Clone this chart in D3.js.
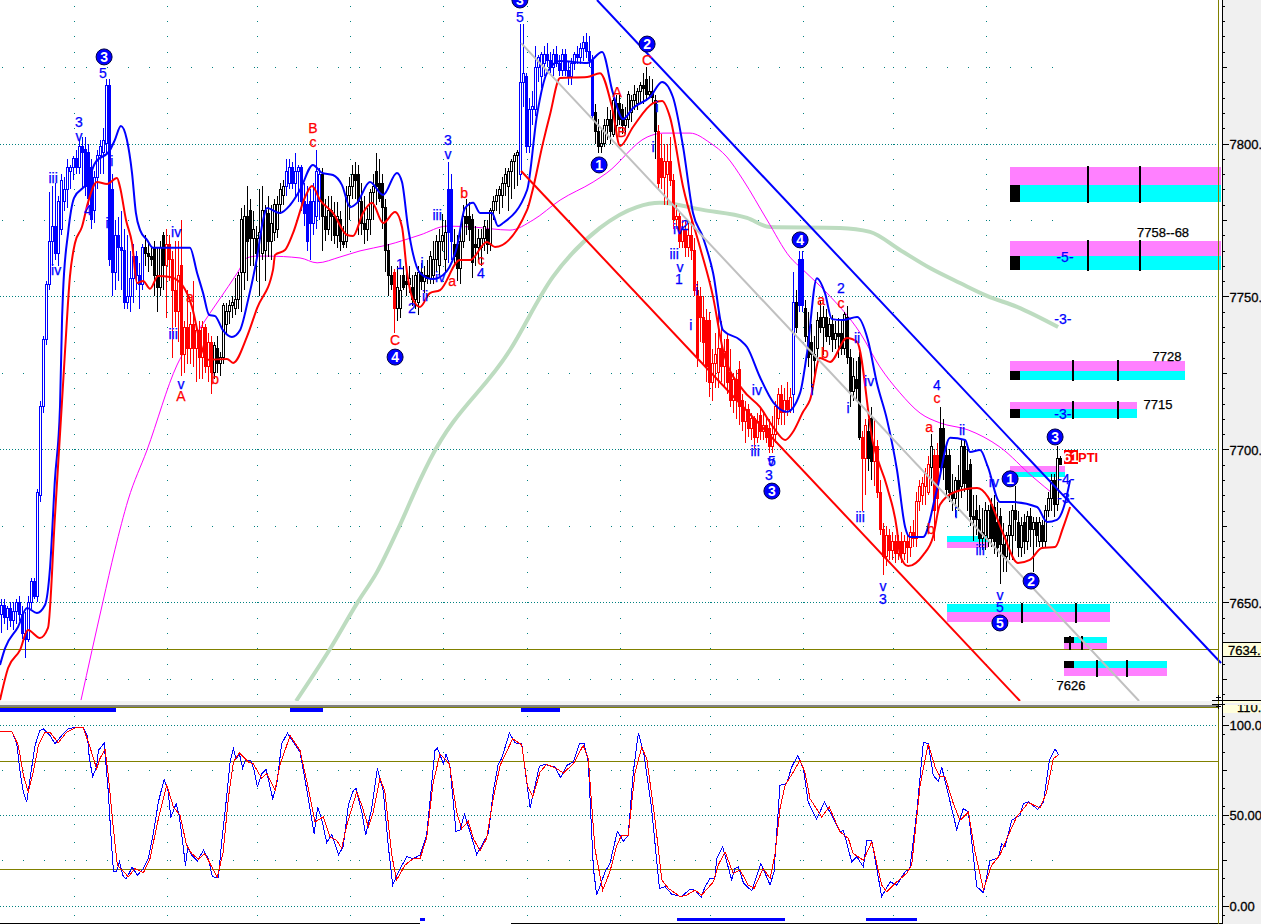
<!DOCTYPE html>
<html>
<head>
<meta charset="utf-8">
<title>Elliott wave chart</title>
<script src="https://cdn.jsdelivr.net/npm/d3@7/dist/d3.min.js"></script>
<style>
html, body { margin: 0; padding: 0; background: #fff; overflow: hidden; }
svg { display: block; font-family: "Liberation Sans", Arial, sans-serif; }
.crisp { shape-rendering: crispEdges; }
</style>
</head>
<body>
<div id="chart"></div>
<script>
// open, high, low, close, one row per bar
const ohlc = [
[7646,7651,7640,7649],[7649,7651,7643,7645],[7645,7649,7641,7648],[7648,7650,7642,7644],[7644,7650,7641,7647],
[7647,7651,7643,7650],[7650,7652,7644,7646],[7646,7649,7638,7640],[7640,7647,7632,7638],[7638,7652,7637,7650],
[7650,7658,7648,7657],[7657,7658,7651,7652],[7652,7687,7650,7686],[7685,7716,7683,7714],[7714,7737,7712,7736],
[7736,7755,7734,7754],[7754,7784,7752,7768],[7768,7786,7760,7773],[7773,7787,7762,7764],[7764,7783,7760,7781],
[7772,7790,7770,7788],[7781,7789,7778,7785],[7785,7795,7779,7792],[7791,7793,7785,7792],[7792,7796,7788,7795],
[7795,7798,7790,7792],[7792,7801,7790,7799],[7799,7802,7785,7797],[7798,7802,7783,7786],[7797,7800,7780,7782],
[7792,7795,7772,7775],[7778,7791,7774,7789],[7789,7798,7785,7796],[7796,7801,7790,7799],[7797,7805,7790,7801],
[7800,7821,7797,7819],[7819,7821,7760,7762],[7785,7790,7750,7758],[7758,7775,7752,7770],[7770,7776,7755,7766],
[7766,7778,7752,7765],[7765,7772,7746,7748],[7748,7770,7746,7750],[7750,7765,7745,7756],[7756,7767,7748,7763],
[7763,7765,7752,7757],[7757,7761,7746,7754],[7754,7767,7752,7766],[7766,7770,7760,7764],[7764,7768,7758,7763],
[7763,7766,7760,7762],[7766,7768,7750,7757],[7757,7766,7745,7753],[7753,7768,7750,7766],[7770,7771,7752,7760],
[7760,7772,7743,7767],[7767,7770,7755,7762],[7762,7765,7730,7752],[7752,7768,7740,7745],[7745,7768,7735,7757],
[7760,7775,7724,7731],[7731,7742,7725,7740],[7740,7752,7728,7733],[7733,7745,7728,7741],[7741,7755,7727,7733],
[7733,7740,7722,7739],[7739,7742,7723,7730],[7730,7742,7723,7740],[7740,7741,7725,7727],[7727,7738,7722,7735],
[7735,7737,7718,7725],[7725,7735,7723,7734],[7733,7737,7725,7728],[7728,7732,7724,7730],[7730,7748,7728,7747],
[7741,7748,7738,7745],[7745,7749,7741,7747],[7747,7750,7743,7748],[7746,7756,7744,7749],[7749,7758,7746,7757],
[7758,7779,7745,7775],[7758,7780,7752,7776],[7776,7786,7755,7768],[7778,7782,7760,7769],[7769,7778,7760,7772],
[7769,7773,7755,7764],[7769,7785,7750,7771],[7764,7786,7762,7778],[7765,7780,7755,7778],[7777,7783,7763,7768],
[7768,7780,7762,7774],[7771,7782,7768,7780],[7772,7783,7769,7780],[7780,7787,7777,7785],[7783,7788,7780,7786],
[7786,7795,7783,7791],[7787,7795,7785,7792],[7792,7794,7785,7787],[7787,7797,7783,7791],[7791,7793,7781,7792],
[7792,7793,7778,7781],[7781,7787,7773,7777],[7780,7786,7765,7768],[7781,7785,7762,7774],[7774,7787,7770,7781],
[7776,7798,7772,7791],[7781,7792,7775,7790],[7790,7792,7765,7776],[7776,7782,7768,7772],[7772,7783,7770,7778],
[7778,7783,7768,7776],[7776,7781,7767,7770],[7770,7781,7766,7776],[7775,7778,7765,7768],[7768,7773,7766,7767],
[7768,7786,7766,7783],[7783,7789,7775,7786],[7786,7793,7782,7790],[7790,7794,7782,7788],[7790,7793,7770,7781],
[7781,7787,7770,7774],[7774,7783,7767,7772],[7772,7779,7768,7775],[7775,7785,7770,7784],[7784,7790,7775,7786],
[7791,7797,7780,7786],[7787,7795,7781,7782],[7787,7790,7772,7779],[7779,7782,7758,7765],[7765,7767,7750,7757],
[7757,7760,7752,7754],[7758,7759,7738,7746],[7746,7760,7742,7753],[7746,7757,7743,7752],[7757,7760,7752,7753],
[7755,7761,7750,7754],[7754,7760,7751,7756],[7753,7757,7747,7749],[7749,7758,7746,7757],[7748,7760,7744,7758],
[7758,7761,7752,7755],[7755,7760,7751,7757],[7757,7762,7754,7756],[7756,7765,7754,7763],[7757,7768,7754,7762],
[7762,7770,7758,7768],[7760,7772,7757,7768],[7768,7777,7765,7770],[7762,7775,7758,7771],[7785,7794,7761,7771],
[7785,7790,7762,7768],[7767,7772,7760,7763],[7767,7770,7755,7759],[7759,7772,7754,7768],[7768,7780,7766,7776],
[7776,7782,7770,7774],[7776,7781,7768,7772],[7775,7777,7756,7761],[7767,7773,7760,7766],[7766,7772,7762,7769],
[7766,7772,7760,7769],[7769,7775,7765,7773],[7772,7775,7764,7767],[7767,7779,7765,7778],[7778,7783,7775,7781],
[7781,7785,7778,7783],[7783,7786,7777,7785],[7783,7789,7779,7787],[7787,7792,7783,7790],[7786,7792,7778,7791],
[7791,7795,7782,7794],[7794,7797,7785,7796],[7796,7798,7786,7797],[7790,7839,7788,7820],[7820,7839,7812,7823],
[7822,7823,7797,7799],[7799,7815,7797,7811],[7811,7817,7806,7812],[7811,7832,7809,7825],[7825,7829,7820,7828],
[7822,7830,7818,7829],[7826,7832,7822,7829],[7829,7833,7825,7827],[7827,7830,7823,7825],[7825,7831,7822,7829],
[7829,7832,7825,7826],[7826,7829,7822,7824],[7824,7831,7822,7829],[7829,7831,7822,7824],[7824,7827,7819,7822],
[7822,7828,7819,7826],[7826,7830,7824,7829],[7829,7832,7826,7828],[7828,7833,7826,7831],[7831,7835,7827,7833],
[7833,7836,7828,7830],[7830,7835,7825,7827],[7827,7829,7808,7809],[7810,7813,7800,7804],[7804,7808,7797,7799],
[7799,7805,7797,7800],[7800,7808,7799,7806],[7806,7812,7801,7808],[7808,7811,7800,7804],[7803,7815,7802,7814],
[7806,7816,7804,7813],[7813,7816,7806,7808],[7811,7813,7803,7806],[7806,7812,7803,7808],[7808,7817,7805,7816],
[7810,7816,7807,7814],[7814,7819,7811,7816],[7813,7818,7811,7817],[7817,7820,7813,7819],[7819,7823,7813,7818],
[7821,7825,7814,7816],[7816,7822,7815,7817],[7817,7821,7813,7815],[7814,7816,7795,7804],[7804,7806,7785,7787],
[7795,7803,7785,7789],[7789,7800,7780,7794],[7790,7800,7780,7794],[7794,7802,7786,7788],[7788,7790,7772,7775],
[7775,7780,7772,7776],[7776,7778,7766,7768],[7768,7775,7766,7772],[7772,7775,7763,7766],[7766,7774,7763,7770],
[7770,7775,7762,7765],[7765,7769,7750,7752],[7752,7755,7727,7730],[7750,7753,7735,7743],[7743,7750,7728,7735],
[7742,7746,7722,7727],[7742,7745,7717,7722],[7722,7733,7716,7728],[7728,7738,7720,7731],[7725,7745,7720,7733],
[7733,7742,7722,7727],[7727,7736,7720,7732],[7736,7738,7718,7722],[7725,7733,7714,7716],[7716,7725,7712,7723],
[7723,7726,7710,7716],[7726,7729,7708,7714],[7716,7718,7706,7709],[7709,7716,7702,7713],[7713,7715,7704,7707],
[7707,7712,7703,7710],[7710,7711,7700,7704],[7704,7712,7702,7709],[7711,7714,7703,7706],[7706,7712,7703,7708],
[7708,7711,7702,7704],[7707,7710,7699,7701],[7701,7711,7699,7705],[7705,7716,7702,7714],[7710,7720,7708,7718],
[7718,7721,7708,7712],[7712,7720,7708,7716],[7716,7722,7711,7713],[7713,7720,7712,7717],[7718,7758,7712,7748],
[7748,7752,7738,7740],[7762,7765,7745,7747],[7762,7765,7745,7747],[7746,7749,7735,7737],[7737,7745,7727,7730],
[7735,7741,7720,7731],[7731,7737,7722,7729],[7733,7745,7730,7742],[7743,7749,7738,7740],[7740,7747,7731,7743],
[7743,7746,7735,7737],[7737,7743,7734,7741],[7741,7744,7732,7736],[7736,7742,7733,7738],[7738,7743,7730,7737],
[7738,7742,7731,7733],[7733,7745,7731,7744],[7743,7747,7728,7730],[7730,7733,7714,7719],[7719,7730,7716,7724],
[7723,7729,7716,7720],[7730,7732,7703,7704],[7704,7706,7680,7697],[7697,7710,7685,7708],[7706,7710,7693,7697],
[7710,7714,7690,7696],[7696,7710,7688,7701],[7701,7703,7684,7686],[7686,7690,7672,7674],[7674,7676,7659,7665],
[7665,7675,7662,7672],[7672,7674,7664,7667],[7667,7673,7664,7670],[7670,7672,7663,7666],[7666,7672,7664,7670],
[7670,7673,7663,7666],[7666,7672,7664,7670],[7670,7672,7663,7668],[7668,7675,7665,7673],[7673,7677,7668,7671],
[7671,7686,7668,7683],[7683,7690,7680,7688],[7685,7691,7682,7689],[7688,7694,7682,7692],[7686,7698,7685,7695],
[7694,7705,7688,7701],[7698,7700,7670,7680],[7698,7702,7680,7684],[7707,7714,7692,7694],[7707,7710,7690,7694],
[7698,7702,7685,7687],[7698,7700,7683,7686],[7686,7692,7680,7684],[7684,7691,7678,7690],[7690,7695,7680,7687],
[7688,7703,7684,7701],[7701,7703,7686,7689],[7693,7700,7680,7687],[7695,7697,7675,7678],[7678,7685,7670,7677],
[7680,7685,7672,7677],[7677,7682,7668,7671],[7671,7681,7667,7673],[7672,7683,7667,7680],[7671,7682,7668,7680],
[7682,7684,7668,7671],[7681,7685,7666,7670],[7676,7683,7665,7668],[7678,7681,7656,7669],[7669,7676,7660,7665],
[7665,7673,7660,7672],[7672,7680,7664,7675],[7672,7682,7664,7680],[7680,7688,7670,7677],[7676,7680,7665,7668],
[7668,7678,7665,7675],[7676,7679,7666,7670],[7670,7680,7667,7678],[7678,7681,7668,7674],[7674,7678,7660,7676],
[7676,7678,7668,7672],[7670,7678,7668,7676],[7675,7677,7668,7670],[7670,7682,7668,7680],[7680,7686,7678,7684],
[7684,7692,7680,7690],[7690,7692,7678,7682],[7682,7701,7680,7697],[7697,7698,7695,7695]
];

// last bar of each colour run of the price bars
const regimeEnd = [47,54,70,94,106,130,131,148,150,172,197,218,263,264,265,267,286,288,290,309,310,312,353];
const regimeName = ['up','flat','down','flat','up','flat','down','flat','up','flat','up','flat','down','up','flat','up','flat','down','flat','down','flat','down','flat'];

const upperBand = [
[0,7629.6],[1.7,7635.1],[6,7642],[9,7648.2],[12.3,7646.6],[15,7649.2],[16.7,7661.6],[18.3,7690],[20,7713.9],[20.7,7743.3],
[21,7751.1],[22.7,7770.8],[24.7,7782.2],[29,7787.1],[31.7,7793.6],[36.7,7797.9],[38.3,7801.2],[40.3,7805.7],[42.3,7801.2],[44,7790.4],
[45.3,7777.3],[46.7,7771.7],[49,7768.5],[51,7765.9],[59,7765.9],[63.3,7765.9],[65.7,7757.7],[67.7,7751.1],[69.7,7744],[71.7,7743.6],
[74.3,7739],[77.3,7736.8],[80,7739],[82.7,7748.9],[85.7,7762.9],[87.7,7775],[89,7778.9],[93.3,7777.3],[96.7,7779.9],[100,7784.8],
[104.3,7793],[107.3,7790.4],[111,7789.7],[114,7786.4],[116.7,7779.2],[119,7780.6],[123.3,7787.4],[127.7,7783.2],[132.3,7790.4],[134,7787.4],
[136,7772.7],[140,7757.7],[144.3,7755.7],[147.7,7757],[152.3,7766.2],[155,7778.9],[157.7,7780.6],[160,7777.3],[164,7777.3],[166,7773],
[167.7,7774],[175.7,7784.8],[179,7809.3],[182.3,7823],[186.7,7827],[195.7,7826.3],[200.7,7829.9],[204.3,7816.5],[207.7,7808],[211,7811.6],
[216.7,7815.2],[220.7,7820.1],[224.3,7815.2],[227.7,7798.9],[231,7777.3],[234.3,7769.4],[237.7,7757.7],[241,7739],[246.7,7735.8],[249,7733.5],
[253.3,7723.7],[257.7,7715.5],[262.3,7712.3],[266.7,7718.5],[269,7731.5],[272.3,7756],[275,7751.1],[277.3,7742.6],[281,7742.3],[285.7,7743.3],
[289.3,7735.8],[292.3,7721.7],[295.7,7709.6],[299,7693.3],[301.7,7674.7],[303.3,7671.4],[307.7,7671.4],[312.3,7686.8],[316.7,7703.8],[321.7,7703.1],
[323.3,7699.2],[326.7,7699.8],[329.3,7694.3],[333.3,7682.8],[337.7,7682.8],[345.7,7681.2],[349,7676.3],[352.3,7677],[355,7682.5],[356.7,7690]
];

const lowerBand = [
[0,7618.1],[2.7,7628.6],[6.7,7634.5],[9.3,7641],[13.3,7638.4],[16,7641.7],[18.3,7677.9],[20.7,7716.2],[21.7,7732.5],[23.3,7756.4],
[25,7767.5],[27.3,7772.7],[29.3,7780.6],[32.3,7787.4],[35.7,7786.8],[39,7788.7],[40,7785.8],[42,7775],[44,7767.5],[45.7,7754.4],
[47.7,7755.1],[50,7752.5],[52.7,7756.7],[56.7,7756.4],[60.7,7753.8],[64,7746.6],[66.7,7735.1],[69.3,7729.3],[75.7,7729.6],[77.7,7728.3],
[82.3,7736.8],[85.7,7746.2],[91,7758.7],[91.7,7763.6],[95,7765.2],[97.7,7770.8],[101.7,7782.5],[104,7786.1],[106.7,7781.5],[111,7777.3],
[115.7,7770.1],[117.7,7769.8],[121,7777.3],[124,7780.6],[127.7,7774],[131.7,7777.6],[134,7772.7],[135.7,7757.7],[137.7,7748.9],[140,7746.6],
[143.3,7751.1],[146.7,7752.1],[153.3,7761.9],[156.7,7761.9],[162.3,7767.8],[165,7766.2],[175.7,7778.3],[177.3,7783.8],[181,7800.2],[183.3,7809.3],
[186.7,7821.4],[195.7,7821.7],[200,7823],[204,7811.9],[206.7,7799.2],[211,7805.4],[217.7,7813.2],[220.7,7813.9],[223.3,7808.7],[227.7,7785.8],
[233.3,7766.2],[237.7,7749.8],[241,7732.5],[247.7,7719.4],[253.3,7713.9],[257.7,7707.4],[261.7,7703.1],[264.3,7705.7],[267.7,7712.3],[270,7716.2],
[273.3,7729.9],[276.7,7728.6],[282.3,7736.4],[285.7,7735.1],[291,7702.1],[295.7,7687.7],[299,7673.7],[300,7665.5],[302.7,7661.9],[307.7,7665.5],
[311,7671.4],[313.3,7681.9],[318.3,7686.1],[325.7,7687.4],[329.3,7684.5],[334.3,7672.7],[339.3,7662.9],[343.3,7663.9],[347.3,7667.8],[351.7,7668.1],
[354.3,7674.3],[356.7,7681.2]
];

const shortAverage = [
[27,7618.1],[34.3,7650.2],[38.3,7667.2],[42.7,7683.5],[49,7699.8],[59,7727.6],[66.7,7739.7],[79.3,7758],[82.3,7762.6],[85.7,7763.2],
[89,7763.2],[100,7762.6],[105.7,7761],[113.3,7762.9],[120,7764.9],[129,7766.8],[140,7770.1],[149,7773],[157.7,7772.7],[170,7771.7],
[177.7,7775],[186.7,7781.5],[197.7,7787.4],[202.3,7790.4],[215.7,7802.1],[221,7803.4],[230,7803.4],[236.7,7800.2],[242.3,7795.6],[247.7,7788.1],
[255.7,7775],[263.3,7762.9],[267.7,7758.7],[275.7,7751.1],[286.7,7738.1],[293.3,7727],[300,7718.5],[306.7,7711.9],[313.3,7708.7],[322.7,7706.4],
[333.3,7700.8],[344.3,7691],[352.3,7684.5]
];

const longAverage = [
[98.7,7617.8],[110,7634.8],[119.3,7650.2],[125.7,7660],[133.3,7675.3],[140,7690],[143.3,7696.6],[170,7732.5],[184.3,7756.4],[200,7772.4],
[212.3,7779.2],[220,7780.6],[234.3,7778.3],[249,7775.7],[256.7,7772.7],[280,7772.4],[290,7771.1],[300,7765.2],[310,7759.3],[320,7754.4],
[329,7750.2],[339,7746.6],[352.7,7740]
];

const stochK = [
[0,96.6],[3.9,96.6],[5.6,89.6],[6.7,73.9],[7.8,62.9],[8.9,57.4],[10,70.3],[11.7,88.7],[13.3,97],[14.4,97.9],
[16.7,94.2],[18.3,89.6],[20.6,94.2],[22.8,97.9],[25,98.8],[27.8,98.4],[29.1,94.2],[29.8,81.3],[30.9,71.5],[32.2,76.7],
[32.8,85.9],[34.7,90],[35.3,78.5],[36.1,62.9],[36.7,46.3],[37.8,19],[38.9,19],[39.8,24.2],[40.9,16.8],[42,14.6],
[43.3,18.7],[44,21.3],[45.8,16.8],[47.8,20.5],[49.4,26],[51.1,39.9],[52.8,57.4],[54.7,69.9],[56.1,62.9],[56.9,48.7],
[58.7,56.4],[59.7,50],[60.9,35.3],[61.8,22],[62.6,32.5],[63.9,27.9],[65.8,24.6],[67.8,30.6],[69.4,26],[70.8,15.9],
[72.8,15.5],[73.9,35.3],[75.6,61],[76.7,79.5],[77.8,86.8],[78.7,81.3],[79.8,84],[80.9,76.1],[81.7,80.4],[83.6,80.4],
[84.7,74.9],[85.8,65.6],[87.2,73],[88.7,75.4],[90.9,59.2],[92.2,66.6],[93.9,89.6],[95.8,95.5],[97.8,90.5],[100,85],
[102.2,64.7],[104.7,39.9],[105.9,54.6],[107.2,48.1],[108.9,34.9],[110.6,39.3],[112.9,28.2],[114.4,32.5],[116.1,55.5],[117.8,63.8],
[118.7,64.7],[120.6,51.8],[121.9,38.9],[123.9,53.7],[125.8,76.1],[127.8,62.9],[129.4,33.4],[130.9,11.3],[132.8,18.7],[135.6,27],
[137.8,26],[140,27.9],[142.2,38.9],[145,85.9],[145.8,87.2],[147.8,78.5],[148.7,84],[150,76.7],[152,41.1],[153.3,41.7],
[154.8,50.4],[156.7,40.8],[158.9,28.2],[162.8,39.9],[164.4,62.9],[166.1,78.5],[167.2,81.3],[169.8,95.5],[171.7,90.1],[173.9,89.6],
[176.7,54.2],[179.8,77.2],[181.7,78.2],[185,76.7],[186.9,70.8],[188.9,77.6],[191.1,79.5],[193.1,89.6],[194.7,89.6],[196.1,79.5],
[197.8,20.5],[198.9,5.8],[201.7,18.7],[203.3,23.3],[205.8,41.1],[207.8,35.6],[209.4,38.9],[211.1,73.9],[212.8,95.7],[214.7,83.1],
[217.2,53.7],[219.8,9.5],[221.7,10.4],[223.9,6.3],[227.2,4.9],[230,9.1],[231.7,8.5],[233.7,4.5],[235,10.4],[236.7,15],
[238.3,15],[238.9,26],[240.9,32.5],[243.9,14.1],[245,20.5],[246.1,21.4],[247.8,12.6],[250.6,8],[253.6,23.3],[256.7,11.3],
[258,18.7],[260,66.6],[262.2,67.5],[263.9,76.7],[265.9,83.1],[267.8,75.8],[269.4,57.4],[272.2,47.8],[274.8,57.4],[277.2,50],
[280,40.8],[281.1,41.7],[283.9,24.2],[285.6,27],[287.8,21.4],[288.9,35.8],[290.6,35.8],[293.9,4.9],[296.7,13.1],[298.9,11.3],
[301.7,18.7],[303.3,20.5],[305.6,51.8],[307.8,90.5],[309.4,89.6],[311.1,72.1],[312.8,68.8],[313.9,76.7],[316.7,57.4],[318.9,42.1],
[321.1,53.7],[322.8,51.8],[325.6,10.4],[327.8,7.1],[330,24.8],[332.8,26.4],[333.9,34.3],[335,32.5],[337.2,47.2],[340,50],
[341.1,56.4],[342.8,57.4],[345.9,53.3],[347.8,57.4],[349.8,80.4],[351.7,86.8],[352.8,83.5]
];

const stochD = [
[0,96.6],[3.9,96.6],[6.1,88.7],[7.8,72.1],[9.4,62.9],[11.1,73.9],[12.8,88.7],[15,96],[16.7,96],[19.4,90.1],
[22.2,96],[25,98.4],[27.8,98.4],[30,87.7],[32.2,75.8],[33.3,81.3],[35,86.8],[36.1,72.1],[37.8,42.6],[39.1,22.4],
[42.8,15.9],[45,20.5],[47.8,18.1],[50,26],[52.8,48.1],[55.6,66.6],[57.8,54.6],[60,50],[62.2,33.4],[63.9,28.8],
[66.1,25.7],[68.3,28.8],[70,23.3],[72.4,15.5],[74.4,29.7],[76.1,59.2],[77.8,79.5],[79.8,84.6],[82.8,79.5],[84.4,78.5],
[87.2,70.6],[88.9,73],[91.7,63.8],[93.3,77.6],[96.7,94.2],[100,85.9],[102.8,64.7],[105,46.3],[107.8,49.1],[110,38],
[112.2,36.2],[113.9,31.6],[115.6,44.5],[118.9,62.9],[120.6,55.5],[122.8,43.5],[124.4,51.8],[126.7,70.6],[128.3,62.9],[130.6,27.9],
[132.2,14.1],[135,22.4],[137.8,26],[140,26],[142.2,37.1],[144.4,68.4],[146.7,84],[149.8,78.5],[152.2,51.8],[153.9,42.6],
[156.1,46.7],[157.8,37.1],[160,30.3],[162.2,37.1],[164.4,59.2],[166.7,77.6],[170.9,92.4],[173.9,89],[175.8,66.6],[177.6,60.1],
[180,73.9],[182.2,78.2],[185.6,75.8],[187.8,73.4],[191.1,78.5],[194.4,88.7],[196.1,81.3],[198.3,31.6],[200.9,8.5],[203.3,18.7],
[205.6,33.4],[207.2,38.9],[209.4,38.9],[211.7,73.9],[213.9,87.7],[215.6,81.3],[218.3,48.1],[220.6,14.1],[222.8,9.5],[226.7,4.9],
[228.9,5.8],[231.7,8.5],[233.9,5.8],[237.8,13.1],[239.4,22.4],[241.7,29.7],[244.4,17.8],[246.7,19.6],[249.4,11.3],[251.4,9.5],
[254.4,20.5],[256.7,15],[258.3,27.9],[260,53.7],[261.7,66.6],[264.4,73.9],[266.7,80.4],[268.3,73.9],[270,59.2],[273.9,49.1],
[276.4,54.6],[280,40.8],[282.8,37.1],[284.4,28.8],[287.8,25.1],[290.6,35.3],[293.9,11.3],[295.6,7.6],[298.3,12.2],[302.2,17.8],
[303.9,22.4],[306.7,66.6],[309.4,89.6],[311.7,76.7],[313.3,71.2],[315,71.2],[317.8,56.4],[320,47.2],[322.8,51.8],[325,29.7],
[327.8,8.9],[330.6,22.4],[333.3,27.9],[336.1,38.9],[338.9,49.1],[342.8,57],[346.7,54],[348.9,62.9],[351.1,81.3],[352.8,83.5]
];

// trend lines: bar, price, bar, price
const blueTrend = [199,7846.9,407,7630.2];
const redTrend = [173.7,7791,340,7617.8];
const grayTrend = [173.7,7832.8,379.7,7617.8];
const lastPrice = 7634.5;

// target zones: start bar, end bar, top, middle, bottom, tick bar, tick bar, first colour, square part
const targetZones = [
[336.7,407,7792.3,7786.4,7780.9,362.7,380,'m','low'],
[336.7,407,7768.1,7763.2,7758.7,362.7,380,'m','low'],
[336.7,395,7728.9,7725.6,7722.7,357.7,372.7,'m','low'],
[336.7,379,7715.5,7713.2,7710.3,357.7,372.7,'m','low'],
[336.7,355,7694.6,7692.7,7691,null,null,'m',null],
[315.7,329.3,7671.6,7669.7,7667.7,null,null,'c',null],
[315.7,370,7649.5,7647,7643.7,340.7,358.7,'c',null],
[354.7,369,7638.7,7636.8,7634.8,356.7,360.7,'c','high'],
[354.7,389,7630.9,7628.6,7626,365.7,375.7,'c','high']
];

const circleLabels = [
[34.7,7828.3,'3'],[173.3,7846.9,'3'],[215.7,7832.5,'2'],[199.7,7793,'1'],[131.7,7730.2,'4'],[266.7,7768.5,'4'],
[257.3,7686.4,'3'],[336.7,7690.4,'1'],[351.7,7704.1,'3'],[343.7,7657,'2'],[333.3,7643.3,'5']
];

const blueLabels = [
[34.3,7823,'5'],[26.3,7807,'3'],[26.3,7802.5,'v'],[17.7,7788.7,'iii'],[18.7,7758.7,'iv'],[37.3,7794.3,'i'],[35.7,7774,'i'],[29.3,7778.3,'4'],
[58.7,7771,'iv'],[57.7,7737.8,'iii'],[60.3,7721.4,'v'],[149.3,7801.1,'3'],[149.3,7796.6,'v'],[145.7,7776.6,'iii'],[133.3,7760.6,'1'],[137.3,7746.2,'2'],
[140.7,7761,'i'],[141.7,7750.2,'ii'],[146.7,7756.4,'iv'],[160.3,7757.7,'4'],[173.3,7841.3,'5'],[219,7811.9,'i'],[217.7,7798.9,'i'],[226,7772,'iv'],
[228.3,7773.4,'2'],[224.7,7763.9,'iii'],[226.7,7759.6,'v'],[226.3,7755.7,'1'],[232.3,7752.1,'i'],[230.3,7740.7,'i'],[252.3,7719.4,'iv'],[251.7,7699.5,'iii'],
[257,7696.2,'v'],[257.3,7696.2,'5'],[256.3,7691.7,'3'],[285.7,7736.4,'ii'],[289.7,7722.4,'iv'],[282.7,7713.6,'i'],[270.7,7719.4,'i'],[286.7,7678,'iii'],
[294.3,7655.4,'v'],[294.3,7651.1,'3'],[318.7,7679.3,'i'],[320.7,7706.4,'ii'],[331.3,7689.4,'iv'],[326.7,7667.2,'iii'],[333.3,7652.5,'v'],[333.3,7648.5,'5'],
[312.3,7721.1,'4'],[280.3,7752.8,'2'],[354.3,7742.6,'-3-'],[354.3,7711.6,'-3-'],[355,7762.9,'-5-'],[355.3,7690.4,'-4-'],[355.3,7684.2,'-3-']
];

const redLabels = [
[104.3,7805.1,'B'],[104.3,7800.5,'c'],[63.3,7749.8,'a'],[71.7,7723,'b'],[60.3,7717.5,'A'],[131.7,7735.8,'C'],[150.7,7755,'a'],[154.7,7783.8,'b'],
[160.3,7761.9,'c'],[205.7,7816.8,'A'],[207.3,7803.8,'B'],[215.7,7827.3,'C'],[273.7,7748.9,'a'],[275,7731.5,'b'],[280.3,7747.9,'c'],[309.7,7707.4,'a'],
[312.3,7716.8,'c'],[310.3,7674,'b']
];

const priceLabels = [[387.7,7771.1,'7758--68'],[389,7730.6,'7728'],[386,7714.9,'7715'],[357,7623,'7626']];

const priceMajorTicks = [7800,7750,7700,7650];
const priceMiddleTicks = [7825,7775,7725,7675,7625];
const stochMajorTicks = [100,50,0];
const stochTickLabels = ['100.0','50.00','0.00'];
const stochMiddleTicks = [75,25];
const stochBands = [80,20];
const gridBars = [24.7,55.7,85.7,116.7,147.7,175.7,206.7,236.7,267.7,297.7,328.7];
const topSignals = [[0,38.7],[96.7,107.7],[173.7,186.7]];
const bottomSignals = [[140,141.7],[225.7,261.7],[288.7,305.7]];

const W = 1261, H = 924;
const plotRight = 1218, axisLeft = 1222;
const priceBottom = 701;
const colors = {up: '#0000ff', down: '#ff0000', flat: '#000000', m: '#ff80ff', c: '#00ffff', grid: '#008080', olive: '#808000'};

const x = d3.scaleLinear().domain([0,406]).range([0,plotRight]);
const y = d3.scaleLinear().domain([7846.9,7617.8]).range([0,priceBottom]);
const yS = d3.scaleLinear().domain([100,0]).range([725,905.5]);

const svg = d3.select('#chart').append('svg').attr('width',W).attr('height',H);
svg.append('rect').attr('width',W).attr('height',H).attr('fill','#fff');

const defs = svg.append('defs');
defs.append('clipPath').attr('id','priceClip').append('rect').attr('width',axisLeft).attr('height',priceBottom);

// grid, upper and lower panel
const grid = svg.append('g').attr('class','crisp');
function dottedLine(yPos, x0, x1, dash, color) {
    grid.append('line').attr('x1',x0).attr('x2',x1).attr('y1',yPos).attr('y2',yPos)
        .attr('stroke',color).attr('stroke-dasharray',dash);
}
priceMajorTicks.forEach(function(p) { dottedLine(Math.round(y(p))+0.5, 0, plotRight, '1,2', colors.grid); });
stochMajorTicks.forEach(function(p) { dottedLine(Math.round(yS(p))+0.5, 0, plotRight, '1,2', colors.grid); });
priceMiddleTicks.forEach(function(p) { dottedLine(Math.round(y(p))+0.5, 2, 1053, '1,20', colors.grid); });
stochMiddleTicks.forEach(function(p) { dottedLine(Math.round(yS(p))+0.5, 2, 1053, '1,20', colors.grid); });

const priceDots = d3.range(7620,7850,5);
const stochDots = d3.range(-5,110,10);
gridBars.forEach(function(b) {
    grid.selectAll(null).data(priceDots).join('rect')
        .attr('x',Math.round(x(b))).attr('y',function(d) { return Math.round(y(d)); })
        .attr('width',1).attr('height',1).attr('fill',colors.grid);
    grid.selectAll(null).data(stochDots).join('rect')
        .attr('x',Math.round(x(b))).attr('y',function(d) { return Math.round(yS(d)); })
        .attr('width',1).attr('height',1).attr('fill',colors.grid);
});

const price = svg.append('g').attr('clip-path','url(#priceClip)');
const line = d3.line().x(function(d) { return x(d[0]); }).y(function(d) { return y(d[1]); });
const smooth = d3.line().curve(d3.curveMonotoneX).x(function(d) { return x(d[0]); }).y(function(d) { return y(d[1]); });
const lineS = d3.line().x(function(d) { return x(d[0]); }).y(function(d) { return yS(d[1]); });

price.append('line').attr('class','crisp').attr('x1',0).attr('x2',plotRight)
    .attr('y1',y(lastPrice)).attr('y2',y(lastPrice)).attr('stroke',colors.olive);

// target zones
const zone = price.append('g').attr('class','crisp').selectAll('g').data(targetZones).join('g');
zone.append('rect').attr('x',function(d) { return x(d[0]); }).attr('y',function(d) { return y(d[2]); })
    .attr('width',function(d) { return x(d[1])-x(d[0]); }).attr('height',function(d) { return y(d[3])-y(d[2]); })
    .attr('fill',function(d) { return d[7]==='m' ? colors.m : colors.c; });
zone.append('rect').attr('x',function(d) { return x(d[0]); }).attr('y',function(d) { return y(d[3]); })
    .attr('width',function(d) { return x(d[1])-x(d[0]); }).attr('height',function(d) { return y(d[4])-y(d[3]); })
    .attr('fill',function(d) { return d[7]==='m' ? colors.c : colors.m; });
zone.filter(function(d) { return d[8]; }).append('rect')
    .attr('x',function(d) { return x(d[0]); })
    .attr('y',function(d) { return d[8]==='low' ? y(d[3]) : y(d[2]); })
    .attr('width',10)
    .attr('height',function(d) { return d[8]==='low' ? y(d[4])-y(d[3]) : y(d[3])-y(d[2]); })
    .attr('fill','#000');
[5,6].forEach(function(k) {
    zone.filter(function(d) { return d[k]!==null; }).append('line')
        .attr('x1',function(d) { return x(d[k]); }).attr('x2',function(d) { return x(d[k]); })
        .attr('y1',function(d) { return y(d[2])-1; }).attr('y2',function(d) { return y(d[4])+1; })
        .attr('stroke','#000').attr('stroke-width',2);
});

// moving averages under the bars
price.append('path').datum(longAverage).attr('d',smooth).attr('fill','none').attr('stroke','#bddcc0').attr('stroke-width',4);
price.append('path').datum(shortAverage).attr('d',smooth).attr('fill','none').attr('stroke','#ff00ff').attr('stroke-width',1);

// price bars
function barColor(i) { return colors[regimeName[d3.bisectLeft(regimeEnd,i)]]; }
const bar = price.append('g').attr('class','crisp').selectAll('g').data(ohlc).join('g');
bar.append('line')
    .attr('x1',function(d,i) { return x(i+0.5); }).attr('x2',function(d,i) { return x(i+0.5); })
    .attr('y1',function(d) { return y(d[1]); }).attr('y2',function(d) { return y(d[2]); })
    .attr('stroke',function(d,i) { return barColor(i); });
bar.append('rect')
    .attr('x',function(d,i) { return x(i+0.5)-1; })
    .attr('y',function(d) { return y(Math.max(d[0],d[3])); })
    .attr('width',2)
    .attr('height',function(d) { return Math.abs(y(d[0])-y(d[3])); })
    .attr('fill',function(d,i) { return d[3]<d[0] ? barColor(i) : '#fff'; })
    .attr('stroke',function(d,i) { return barColor(i); });

// bands and trend lines
price.append('path').datum(upperBand).attr('d',smooth).attr('fill','none').attr('stroke','#0000ff').attr('stroke-width',2);
price.append('path').datum(lowerBand).attr('d',smooth).attr('fill','none').attr('stroke','#ff0000').attr('stroke-width',2);
[[grayTrend,'#c0c0c0'],[redTrend,'#ff0000'],[blueTrend,'#0000ff']].forEach(function(t) {
    price.append('line').attr('x1',x(t[0][0])).attr('y1',y(t[0][1])).attr('x2',x(t[0][2])).attr('y2',y(t[0][3]))
        .attr('stroke',t[1]).attr('stroke-width',2);
});

// wave labels
function textLabels(rows, color, size) {
    price.append('g').selectAll('text').data(rows).join('text')
        .attr('x',function(d) { return x(d[0]); }).attr('y',function(d) { return y(d[1]); })
        .attr('dy','0.36em').attr('text-anchor','middle')
        .attr('font-size',size).attr('fill',color).attr('stroke',color).attr('stroke-width',0.25)
        .text(function(d) { return d[2]; });
}
textLabels(blueLabels,'#0000ff',14);
textLabels(redLabels,'#ff0000',14);
textLabels(priceLabels,'#000',13);

const circle = price.append('g').selectAll('g').data(circleLabels).join('g')
    .attr('transform',function(d) { return 'translate('+x(d[0])+','+y(d[1])+')'; });
circle.append('circle').attr('r',8).attr('fill','#0000ff').attr('stroke','#000040').attr('stroke-width',1);
circle.append('text').attr('dy','0.36em').attr('text-anchor','middle').attr('font-size',14).attr('font-weight','bold')
    .attr('fill','#fff').text(function(d) { return d[2]; });

// the PTI tag near the last bar
const tagBar = 355, tagPrice = 7697.6;
price.append('rect').attr('class','crisp').attr('x',x(tagBar)-1).attr('y',y(tagPrice)-7).attr('width',14).attr('height',14).attr('fill','#ff0000');
price.append('text').attr('x',x(tagBar)+6).attr('y',y(tagPrice)).attr('dy','0.36em').attr('text-anchor','middle')
    .attr('font-size',14).attr('font-weight','bold').attr('fill','#fff').text('61');
price.append('text').attr('x',x(tagBar)+13).attr('y',y(tagPrice)).attr('dy','0.36em')
    .attr('font-size',13).attr('font-weight','bold').attr('fill','#ff0000').text('PTI');

// lower panel
const lower = svg.append('g');
stochBands.forEach(function(v) {
    lower.append('line').attr('class','crisp').attr('x1',0).attr('x2',plotRight).attr('y1',yS(v)).attr('y2',yS(v))
        .attr('stroke',colors.olive).attr('stroke-width',1);
});
lower.append('path').datum(stochK).attr('class','crisp').attr('d',lineS).attr('fill','none').attr('stroke','#0000ff').attr('stroke-width',1);
lower.append('path').datum(stochD).attr('class','crisp').attr('d',lineS).attr('fill','none').attr('stroke','#ff0000').attr('stroke-width',1);

function signalBars(rows, top, height) {
    lower.append('g').attr('class','crisp').selectAll('rect').data(rows).join('rect')
        .attr('x',function(d) { return x(d[0]); }).attr('y',top)
        .attr('width',function(d) { return x(d[1])-x(d[0]); }).attr('height',height).attr('fill','#0000ff');
}
signalBars(topSignals,708,4);
signalBars(bottomSignals,918,3);

// panel splitter and frame
const frame = svg.append('g').attr('class','crisp');
frame.append('rect').attr('x',0).attr('y',701).attr('width',plotRight).attr('height',4).attr('fill','#f2f2f2');
frame.append('rect').attr('x',0).attr('y',705).attr('width',plotRight).attr('height',2).attr('fill','#808080');
frame.append('rect').attr('x',0).attr('y',707).attr('width',plotRight).attr('height',1).attr('fill',colors.olive);
frame.append('rect').attr('x',0).attr('y',923).attr('width',420).attr('height',1).attr('fill','#000');
frame.append('rect').attr('x',511).attr('y',923).attr('width',axisLeft-511).attr('height',1).attr('fill','#000');
frame.append('rect').attr('x',axisLeft).attr('y',0).attr('width',W-axisLeft).attr('height',H).attr('fill','#f0f0f0');
frame.append('rect').attr('x',plotRight).attr('y',0).attr('width',1).attr('height',H).attr('fill',colors.olive);
frame.append('rect').attr('x',axisLeft).attr('y',0).attr('width',1).attr('height',H).attr('fill','#000');

// axes
const axisFont = 'font-size:13px;fill:#000;stroke:#000;stroke-width:0.3;font-family:"Liberation Sans",Arial,sans-serif';
function styleAxis(g) {
    g.select('.domain').remove();
    g.selectAll('line').attr('class','crisp').attr('stroke','#000');
    g.selectAll('text').attr('style',axisFont).attr('dy','0.36em');
}
const priceClipAxis = svg.append('g').attr('clip-path','url(#priceAxisClip)');
defs.append('clipPath').attr('id','priceAxisClip').append('rect').attr('x',axisLeft).attr('width',W-axisLeft).attr('height',priceBottom);

priceClipAxis.append('g').attr('transform','translate('+(axisLeft+0.5)+',0)')
    .call(d3.axisRight(y).tickValues(priceDots).tickSize(2).tickFormat('')).call(styleAxis);
priceClipAxis.append('g').attr('transform','translate('+(axisLeft+0.5)+',0)')
    .call(d3.axisRight(y).tickValues(priceMiddleTicks).tickSize(4).tickFormat('')).call(styleAxis);
priceClipAxis.append('g').attr('transform','translate('+(axisLeft+0.5)+',0)')
    .call(d3.axisRight(y).tickValues(priceMajorTicks).tickSize(6).tickPadding(1).tickFormat(d3.format('.1f'))).call(styleAxis);

svg.append('g').attr('transform','translate('+(axisLeft+0.5)+',0)')
    .call(d3.axisRight(yS).tickValues(stochDots).tickSize(2).tickFormat('')).call(styleAxis);
svg.append('g').attr('transform','translate('+(axisLeft+0.5)+',0)')
    .call(d3.axisRight(yS).tickValues(stochMiddleTicks).tickSize(4).tickFormat('')).call(styleAxis);
svg.append('g').attr('transform','translate('+(axisLeft+0.5)+',0)')
    .call(d3.axisRight(yS).tickValues(stochMajorTicks).tickSize(6).tickPadding(1)
        .tickFormat(function(d,i) { return stochTickLabels[i]; })).call(styleAxis);

// last price tag and the clipped scale top of the lower panel
const tag = svg.append('g');
tag.append('rect').attr('class','crisp').attr('x',axisLeft+0.5).attr('y',y(lastPrice)-7).attr('width',W-axisLeft).attr('height',14)
    .attr('fill','#ffffdc').attr('stroke','#000');
tag.append('text').attr('x',axisLeft+6).attr('y',y(lastPrice)).attr('dy','0.36em').attr('style',axisFont).text(d3.format('.1f')(lastPrice));

tag.append('rect').attr('class','crisp').attr('x',axisLeft+1).attr('y',700).attr('width',W-axisLeft).attr('height',13).attr('fill','#ffffdc');
defs.append('clipPath').attr('id','topLabelClip').append('rect').attr('x',axisLeft+1).attr('y',705).attr('width',W-axisLeft).attr('height',9);
tag.append('text').attr('clip-path','url(#topLabelClip)').attr('x',axisLeft+15).attr('y',707).attr('dy','0.36em').attr('style',axisFont).text('110.0');
tag.append('rect').attr('class','crisp').attr('x',axisLeft+1).attr('y',700).attr('width',W-axisLeft).attr('height',1).attr('fill','#000');
tag.append('rect').attr('class','crisp').attr('x',axisLeft+1).attr('y',703).attr('width',W-axisLeft).attr('height',2).attr('fill','#f0f0f0');

// splitter handle
const handle = svg.append('g').attr('class','crisp').attr('stroke','#000');
handle.append('line').attr('x1',1212).attr('x2',1225).attr('y1',700.5).attr('y2',700.5);
handle.append('line').attr('x1',1212).attr('x2',1225).attr('y1',704.5).attr('y2',704.5);
handle.append('line').attr('x1',1218.5).attr('x2',1218.5).attr('y1',695).attr('y2',700);
handle.append('line').attr('x1',1218.5).attr('x2',1218.5).attr('y1',705).attr('y2',709);
handle.append('line').attr('x1',1216).attr('x2',1221).attr('y1',697.5).attr('y2',697.5);
handle.append('line').attr('x1',1216).attr('x2',1221).attr('y1',706.5).attr('y2',706.5);
</script>
</body>
</html>
